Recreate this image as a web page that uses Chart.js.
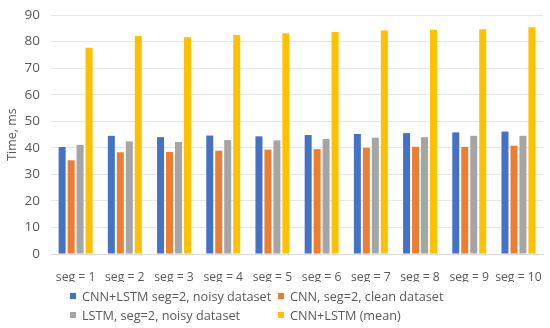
<!DOCTYPE html>
<html>
<head>
<meta charset="utf-8">
<script src="https://cdn.jsdelivr.net/npm/chart.js@4"></script>
<style>
  body { margin: 0; background: #fff; }
  #wrap { position: relative; width: 550px; height: 328px; }
  #legend {
    position: absolute; left: 70px; top: 287px;
    display: grid; grid-template-columns: 208px auto; row-gap: 1px;
    font-family: "Open Sans", sans-serif; font-size: 12.7px; color: #595959;
  }
  #legend div { display: flex; align-items: center; height: 18px; white-space: nowrap; }
  #legend span.box { display: inline-block; width: 6px; height: 6px; margin-right: 6px; }
</style>
</head>
<body>
<div id="wrap">
  <canvas id="chart" width="550" height="328"></canvas>
  <div id="legend"></div>
</div>
<script>
// Categorias e valores (ms)
const categorias = ['seg = 1', 'seg = 2', 'seg = 3', 'seg = 4', 'seg = 5', 'seg = 6', 'seg = 7', 'seg = 8', 'seg = 9', 'seg = 10'];
const cnnLstmRuido = [40.3, 44.5, 44.0, 44.6, 44.3, 44.8, 45.2, 45.5, 45.8, 46.1];
const cnnLimpo = [35.3, 38.3, 38.4, 38.9, 39.3, 39.5, 40.0, 40.4, 40.3, 40.8];
const lstmRuido = [41.1, 42.4, 42.2, 42.9, 42.8, 43.3, 43.8, 44.0, 44.5, 44.5];
const cnnLstmMedia = [77.7, 82.1, 81.6, 82.5, 83.1, 83.6, 84.2, 84.4, 84.6, 85.4];
const nomesSeries = ['CNN+LSTM seg=2, noisy dataset', 'CNN, seg=2, clean dataset', 'LSTM, seg=2, noisy dataset', 'CNN+LSTM (mean)'];
const cores = ['#4472C4', '#ED7D31', '#A5A5A5', '#FFC000'];

const series = [cnnLstmRuido, cnnLimpo, lstmRuido, cnnLstmMedia];
const fonte = '"Open Sans", sans-serif';

const ctx = document.getElementById('chart').getContext('2d');
new Chart(ctx, {
    type: 'bar',
    data: {
        labels: categorias,
        datasets: series.map((s, i) => ({
            label: nomesSeries[i],
            data: s,
            backgroundColor: cores[i],
            categoryPercentage: 0.73,
            barPercentage: 0.78
        }))
    },
    options: {
      responsive: false,
      animation: false,
      layout: { padding: { left: 3, right: 6, top: 15, bottom: 46 } },
      plugins: { legend: { display: false }, tooltip: { enabled: false } },
      scales: {
        x: {
          grid: { display: false },
          border: { color: '#d9d9d9' },
          ticks: { color: '#595959', font: { family: fonte, size: 12.2 }, padding: 8, maxRotation: 0, autoSkip: false },
          afterFit: s => { s.height = 28; }
        },
        y: {
          min: 0, max: 90,
          ticks: { stepSize: 10, color: '#595959', font: { family: fonte, size: 13.5 }, padding: 11 },
          grid: { color: '#e6e6e6', drawTicks: false },
          border: { display: false },
          title: { display: true, text: 'Time, ms', color: '#595959', font: { family: fonte, size: 12.5 }, padding: 2 },
          afterFit: s => { s.width = 48; s.paddingTop = 0; s.paddingBottom = 0; }
        }
      }
    }
});

// Legenda em duas colunas
const leg = document.getElementById('legend');
nomesSeries.forEach((n, i) => {
  const d = document.createElement('div');
  d.innerHTML = '<span class="box" style="background:' + cores[i] + '"></span>' + n;
  leg.appendChild(d);
});
</script>
</body>
</html>
